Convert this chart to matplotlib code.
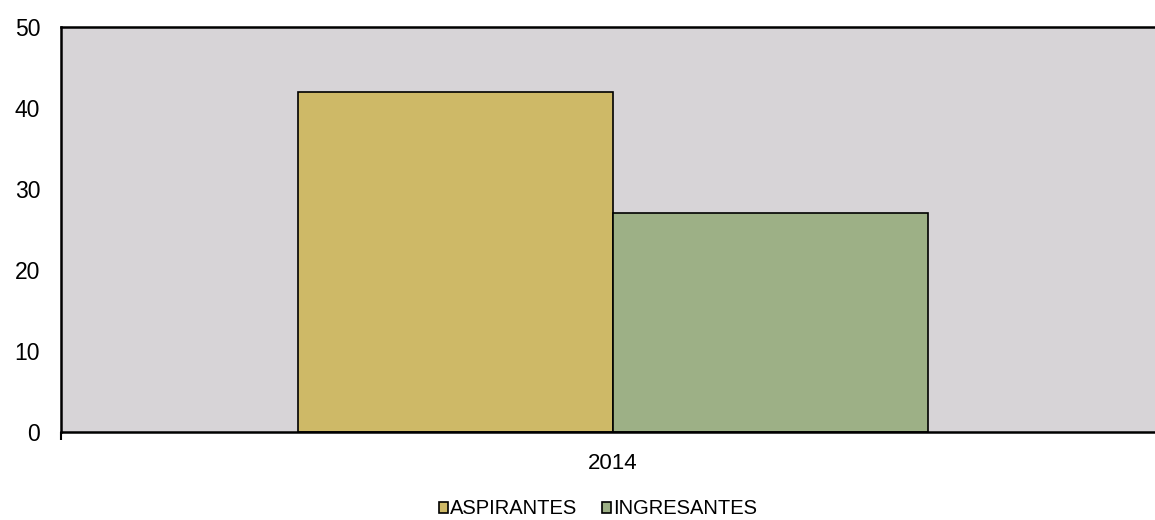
import matplotlib.pyplot as plt
import numpy as np

plt.rcParams['font.family'] = ['Liberation Sans', 'DejaVu Sans']

years = ["2014"]
series = ["ASPIRANTES", "INGRESANTES"]
aspirantes = [42]
ingresantes = [27]
colors = ["#CEB967", "#9DB086"]

fig = plt.figure(figsize=(11.55, 5.2), dpi=100)
ax = fig.add_axes([61 / 1155, 1 - 432 / 520, 1104 / 1155, 405 / 520])
ax.set_facecolor("#D7D4D7")

x = np.arange(len(years))
w = 0.2855
ax.bar(x - w / 2, aspirantes, w, color=colors[0], edgecolor="black", linewidth=1.2, label=series[0])
ax.bar(x + w / 2, ingresantes, w, color=colors[1], edgecolor="black", linewidth=1.2, label=series[1])

ax.set_xlim(-0.5, 0.5)
ax.set_ylim(0, 50)
ax.set_yticks([0, 10, 20, 30, 40, 50])
ax.tick_params(axis="y", length=0, pad=15, labelsize=16.5)
ax.set_xticks(x)
ax.set_xticklabels(years)
ax.tick_params(axis="x", which="major", length=0, pad=15, labelsize=16)
ax.set_xticks([-0.5, 0.5], minor=True)
ax.tick_params(axis="x", which="minor", length=6, width=1.5)

for s in ["top", "left", "bottom"]:
    ax.spines[s].set_linewidth(1.8)
ax.spines["right"].set_visible(False)

leg = fig.legend(loc="center", bbox_to_anchor=(598 / 1155, 1 - 509 / 520), ncol=2, frameon=False,
                 fontsize=14.5, handlelength=0.45, handleheight=0.45, handletextpad=0.1, columnspacing=1.2)
for h in leg.legend_handles:
    h.set_linewidth(1.2)

fig.savefig("out.png", dpi=100)
